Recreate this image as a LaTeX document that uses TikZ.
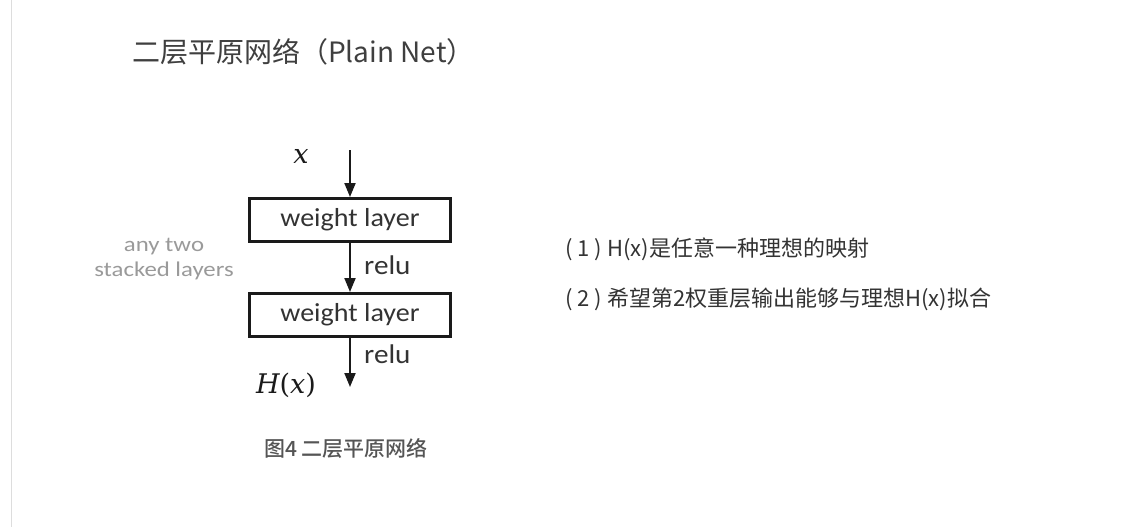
\documentclass[tikz,border=0pt]{standalone}
\usepackage{fontspec}
\usetikzlibrary{arrows.meta}
\newfontfamily\cjkfont{Noto Sans CJK SC}
\newfontfamily\cjkbfont{Noto Sans CJK SC Medium}
\newfontfamily\carlfont[FakeStretch=1.08]{Carlito}
\newfontfamily\carlwfont[FakeStretch=1.18]{Carlito}
\newfontfamily\mathitfont{DejaVu Serif}
\definecolor{titlec}{HTML}{3F3F3F}
\definecolor{boxc}{HTML}{1A1A1A}
\definecolor{textc}{HTML}{333333}
\definecolor{greyc}{HTML}{9A9A9A}
\definecolor{capc}{HTML}{555555}
\definecolor{edgec}{HTML}{DDDDDD}
\begin{document}
\begin{tikzpicture}[x=1pt,y=-1pt,
  wbox/.style={draw=boxc, line width=3pt, minimum width=201pt, minimum height=43pt, inner sep=0pt, text=textc, font=\carlfont\fontsize{26}{30}\selectfont},
  flow/.style={draw=boxc, line width=2pt, -{Triangle[width=11pt,length=14pt]}},
  lbl/.style={inner sep=0pt, anchor=west},
  mathl/.style={inner sep=0pt, text=boxc, font=\mathitfont\fontsize{27}{32}\selectfont},
  reluc/.style={inner sep=0pt, anchor=west, text=textc, font=\carlfont\fontsize{27}{30}\selectfont}]
\useasboundingbox[fill=white] (0,0) rectangle (1137,527);
\draw[edgec, line width=1.5pt] (11.5,0) -- (11.5,527);
% title
\node[lbl, text=titlec, font=\cjkfont\fontsize{28}{32}\selectfont] (title) at (132,52) {二层平原网络（Plain Net）};
% diagram
\coordinate (in) at (350,150);
\node[wbox] (w1) at (350,220) {weight layer};
\node[wbox] (w2) at (350,315) {weight layer};
\coordinate (out) at (350,387);
\draw[flow] (in) -- (w1.north);
\draw[flow] (w1.south) -- (w2.north);
\draw[flow] (w2.south) -- (out);
\node[mathl] (x) at (301,156) {\itshape x};
\node[mathl] (hx) at (286,385) {\itshape H\upshape(\itshape x\upshape)};
\node[reluc] (r1) at (364,265) {relu};
\node[reluc] (r2) at (364,354) {relu};
\node[inner sep=0pt, text=greyc, font=\carlwfont\fontsize{21}{26}\selectfont, align=center] (any) at (164,259) {any two\\[-1pt]stacked layers};
% caption
\node[lbl, text=capc, font=\cjkbfont\fontsize{21}{24}\selectfont] (cap) at (264,448) {图4 二层平原网络};
% notes
\node[lbl, text=textc, font=\cjkfont\fontsize{22}{26}\selectfont] (n1) at (565,249) {(\kern5pt1\kern5pt) H(x)是任意一种理想的映射};
\node[lbl, text=textc, font=\cjkfont\fontsize{22}{26}\selectfont] (n2) at (565,299) {(\kern5pt2\kern5pt) 希望第2权重层输出能够与理想H(x)拟合};
\end{tikzpicture}
\end{document}
